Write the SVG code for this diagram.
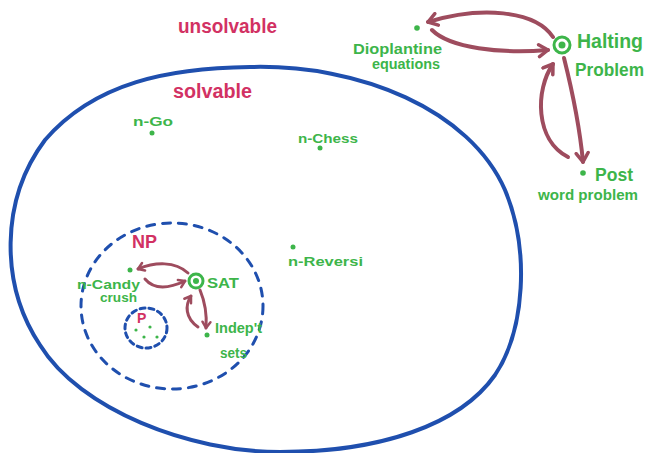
<svg xmlns="http://www.w3.org/2000/svg" width="649" height="453" viewBox="0 0 649 453">
  <style>
    .set{fill:none;stroke:#1f4fae;stroke-linecap:round}
    .lbl{font-family:"Liberation Sans","DejaVu Sans",sans-serif;fill:#3db54a;font-weight:bold}
    .cls{font-family:"Liberation Sans","DejaVu Sans",sans-serif;fill:#d23163;font-weight:bold}
    .dot{fill:#3db54a}
    .ring{fill:#ffffff;stroke:#3db54a;stroke-width:3}
    .arr{fill:none;stroke:#9e4c5e;stroke-linecap:round}
    .big{stroke-width:4;marker-end:url(#ahBig)}
    .small{stroke-width:3;marker-end:url(#ahSmall)}
  </style>
  <defs>
    <marker id="ahBig" markerUnits="userSpaceOnUse" markerWidth="16" markerHeight="16" refX="11" refY="8" orient="auto" viewBox="0 0 16 16">
      <path d="M2,2 L11,8 L2,14" fill="none" stroke="#9e4c5e" stroke-width="3.5" stroke-linecap="round" stroke-linejoin="round"/>
    </marker>
    <marker id="ahSmall" markerUnits="userSpaceOnUse" markerWidth="12" markerHeight="12" refX="8" refY="6" orient="auto" viewBox="0 0 12 12">
      <path d="M2,2 L8,6 L2,10" fill="none" stroke="#9e4c5e" stroke-width="2.5" stroke-linecap="round" stroke-linejoin="round"/>
    </marker>
  </defs>
  <rect width="649" height="453" fill="#ffffff"/>

  <g id="sets">
    <path id="solvable-set" class="set" stroke-width="4" d="M 250 67 C 360 64, 470 110, 505 190 C 530 250, 525 330, 495 375 C 460 425, 380 452, 280 452 C 190 452, 80 410, 40 345 C 0 285, 0 200, 45 140 C 95 82, 170 68, 250 67 Z"/>
    <ellipse id="np-set" class="set" stroke-width="3" stroke-dasharray="8 8" cx="172" cy="306" rx="91" ry="83"/>
    <ellipse id="p-set" class="set" stroke-width="3" stroke-dasharray="5 4" cx="146" cy="328" rx="21" ry="20"/>
  </g>

  <g id="class-labels">
    <text class="cls" x="178" y="33" font-size="21" textLength="99" lengthAdjust="spacingAndGlyphs">unsolvable</text>
    <text class="cls" x="173" y="98" font-size="20" textLength="79" lengthAdjust="spacingAndGlyphs">solvable</text>
    <text class="cls" x="132" y="248" font-size="18">NP</text>
    <text class="cls" x="137" y="323" font-size="14">P</text>
  </g>

  <g id="p-dots">
    <circle class="dot" cx="136" cy="330" r="1.6"/>
    <circle class="dot" cx="144" cy="337" r="1.6"/>
    <circle class="dot" cx="157" cy="337" r="1.6"/>
    <circle class="dot" cx="150" cy="327" r="1.6"/>
  </g>

  <g id="connectors">
    <path class="arr big" d="M 553 37 C 535 10, 480 6, 428 22"/>
    <path class="arr big" d="M 432 30 C 450 48, 500 54, 548 50"/>
    <path class="arr big" d="M 564 58 C 572 90, 580 130, 583 162"/>
    <path class="arr big" d="M 568 157 C 535 140, 535 90, 553 64"/>
    <path class="arr small" d="M 188 273 C 175 261, 155 262, 138 269"/>
    <path class="arr small" d="M 145 279 C 155 291, 170 288, 185 281"/>
    <path class="arr small" d="M 200 290 C 205 302, 207 315, 206 328"/>
    <path class="arr small" d="M 198 327 C 185 318, 185 305, 191 296"/>
  </g>

  <g id="n-go">
    <circle class="dot" cx="152" cy="133" r="2.5"/>
    <text class="lbl" x="133" y="126" font-size="13" textLength="40" lengthAdjust="spacingAndGlyphs">n-Go</text>
  </g>
  <g id="n-chess">
    <circle class="dot" cx="320" cy="148" r="2.5"/>
    <text class="lbl" x="298" y="143" font-size="13" textLength="60" lengthAdjust="spacingAndGlyphs">n-Chess</text>
  </g>
  <g id="n-reversi">
    <circle class="dot" cx="293" cy="247" r="2.5"/>
    <text class="lbl" x="288" y="266" font-size="13" textLength="75" lengthAdjust="spacingAndGlyphs">n-Reversi</text>
  </g>
  <g id="n-candy-crush">
    <circle class="dot" cx="130" cy="270" r="2.5"/>
    <text class="lbl" x="77" y="289" font-size="12" textLength="63" lengthAdjust="spacingAndGlyphs">n-Candy</text>
    <text class="lbl" x="100" y="302" font-size="12" textLength="37" lengthAdjust="spacingAndGlyphs">crush</text>
  </g>
  <g id="sat">
    <circle class="ring" cx="196" cy="281" r="7"/>
    <circle class="dot" cx="196" cy="281" r="3"/>
    <text class="lbl" x="207" y="288" font-size="15" textLength="32" lengthAdjust="spacingAndGlyphs">SAT</text>
  </g>
  <g id="indep-sets">
    <circle class="dot" cx="207" cy="335" r="2.5"/>
    <text class="lbl" x="215" y="333" font-size="14" textLength="47" lengthAdjust="spacingAndGlyphs">Indep't</text>
    <text class="lbl" x="220" y="358" font-size="14" textLength="27" lengthAdjust="spacingAndGlyphs">sets</text>
  </g>
  <g id="diophantine">
    <circle class="dot" cx="417" cy="28" r="2.8"/>
    <text class="lbl" x="353" y="54" font-size="14" textLength="89" lengthAdjust="spacingAndGlyphs">Dioplantine</text>
    <text class="lbl" x="372" y="69" font-size="14" textLength="68" lengthAdjust="spacingAndGlyphs">equations</text>
  </g>
  <g id="halting">
    <circle class="ring" cx="562" cy="45" r="8"/>
    <circle class="dot" cx="562" cy="45" r="3.5"/>
    <text class="lbl" x="577" y="48" font-size="19.5" textLength="66" lengthAdjust="spacingAndGlyphs">Halting</text>
    <text class="lbl" x="575" y="76" font-size="17.5" textLength="69" lengthAdjust="spacingAndGlyphs">Problem</text>
  </g>
  <g id="post">
    <circle class="dot" cx="583" cy="173" r="2.8"/>
    <text class="lbl" x="595" y="181" font-size="18" textLength="38" lengthAdjust="spacingAndGlyphs">Post</text>
    <text class="lbl" x="538" y="200" font-size="14" textLength="100" lengthAdjust="spacingAndGlyphs">word problem</text>
  </g>
</svg>
